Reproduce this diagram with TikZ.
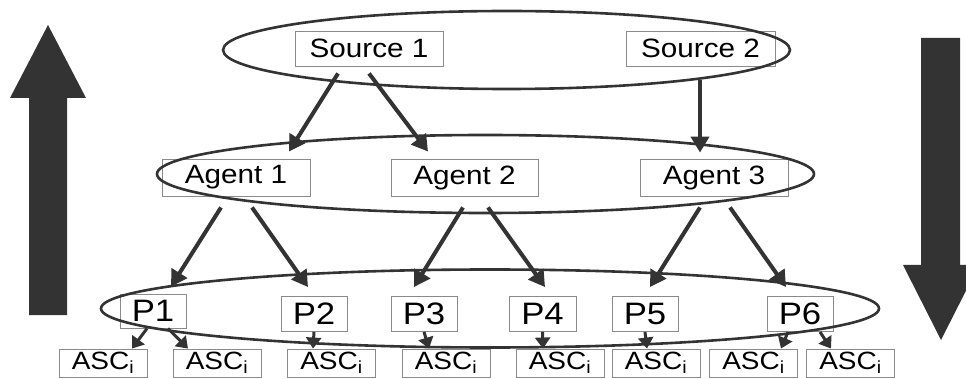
\documentclass[tikz,border=0pt]{standalone}
\usepackage{fontspec}
\setmainfont{Liberation Sans}[FakeStretch=1.12]
\usetikzlibrary{arrows.meta}
\definecolor{dk}{HTML}{333333}
\definecolor{bx}{HTML}{8A8A8A}
\begin{document}
\begin{tikzpicture}[x=1pt,y=-1pt,
  box/.style={draw=bx,line width=0.9pt,inner sep=0pt,minimum height=35pt},
  srcbox/.style={box,minimum width=148pt,font=\fontsize{26.5}{26.5}\selectfont},
  pbox/.style={box,minimum width=66pt,minimum height=35pt,font=\fontsize{31}{31}\selectfont},
  ascbox/.style={box,minimum width=88pt,minimum height=28pt,font=\fontsize{25}{25}\selectfont},
  ring/.style={draw=dk,line width=2.6pt},
  bigarr/.style={draw=dk,line width=4pt,-{Triangle[length=16pt,width=18pt]}},
  smallarr/.style={draw=dk,line width=3pt,-{Triangle[length=11pt,width=15pt]}},
  fatarrow/.style={fill=dk,draw=none}]
\useasboundingbox (0,0) rectangle (966,379);
% big side arrows
\fill[fatarrow] (29,315) -- (29,98) -- (10,98) -- (48,25) -- (86,98) -- (67,98) -- (67,315) -- cycle;
\fill[fatarrow] (921,38) -- (921,265) -- (903,265) -- (941,340) -- (979,265) -- (960,265) -- (960,38) -- cycle;
% boxes
\node[srcbox] (s1) at (369,48.5) {Source 1};
\node[srcbox,minimum width=149pt] (s2) at (700.5,48.5) {Source 2};
\node[srcbox,minimum height=37pt] (a1) at (236,177.5) {Agent 1};
\node[srcbox,minimum height=37pt,minimum width=147pt] (a2) at (464.5,177.5) {Agent 2};
\node[srcbox,minimum height=37pt] (a3) at (714,177.5) {Agent 3};
\node[pbox,minimum height=34pt] (p1) at (153,311) {P1};
\node[pbox] (p2) at (314,314) {P2};
\node[pbox] (p3) at (424,314) {P3};
\node[pbox,minimum width=67pt] (p4) at (542.5,314) {P4};
\node[pbox] (p5) at (645,314) {P5};
\node[pbox] (p6) at (800,314) {P6};
\foreach \n/\x in {1/103,2/217,3/331.5,4/446,5/560,6/656,7/753.5,8/850.5}
  \node[ascbox] (c\n) at (\x,363) {ASC\textsubscript{i}};
% ellipses
\draw[ring] (506.5,50) ellipse [x radius=283.5pt, y radius=39pt];
\draw[ring] (485.5,174) ellipse [x radius=328.5pt, y radius=39pt];
\draw[ring] (490,308.5) ellipse [x radius=389pt, y radius=39pt];
% level 1 -> 2
\draw[bigarr] ([xshift=-31pt,yshift=-7pt]s1.south) -- ([xshift=53pt,yshift=7pt]a1.north);
\draw[bigarr] ([xshift=0pt,yshift=-7pt]s1.south) -- ([xshift=-36.5pt,yshift=7pt]a2.north);
\draw[bigarr] ([xshift=-0.5pt,yshift=-14pt]s2.south) -- ([xshift=-14pt,yshift=6pt]a3.north);
% level 2 -> 3
\draw[bigarr] ([xshift=-15pt,yshift=-11pt]a1.south) -- ([xshift=18pt,yshift=7pt]p1.north);
\draw[bigarr] ([xshift=16pt,yshift=-11pt]a1.south) -- ([xshift=-6pt,yshift=9pt]p2.north);
\draw[bigarr] ([xshift=-1.5pt,yshift=-11pt]a2.south) -- ([xshift=-10pt,yshift=9pt]p3.north);
\draw[bigarr] ([xshift=23.5pt,yshift=-11pt]a2.south) -- ([xshift=2.5pt,yshift=9pt]p4.north);
\draw[bigarr] ([xshift=-14pt,yshift=-11pt]a3.south) -- ([xshift=5pt,yshift=9pt]p5.north);
\draw[bigarr] ([xshift=16pt,yshift=-11pt]a3.south) -- ([xshift=-14pt,yshift=9pt]p6.north);
% level 3 -> ASC
\draw[smallarr] ([xshift=-6pt]p1.south) -- ([xshift=29pt]c1.north);
\draw[smallarr] ([xshift=15pt]p1.south) -- ([xshift=-29pt]c2.north);
\draw[smallarr] (p2.south) -- ([xshift=-18.5pt]c3.north);
\draw[smallarr] (p3.south) -- ([xshift=-17pt]c4.north);
\draw[smallarr] (p4.south) -- ([xshift=-17pt]c5.north);
\draw[smallarr] (p5.south) -- ([xshift=-9pt]c6.north);
\draw[smallarr] ([xshift=-12pt]p6.south) -- ([xshift=27.5pt]c7.north);
\draw[smallarr] ([xshift=20pt]p6.south) -- ([xshift=-19.5pt]c8.north);
\end{tikzpicture}
\end{document}
